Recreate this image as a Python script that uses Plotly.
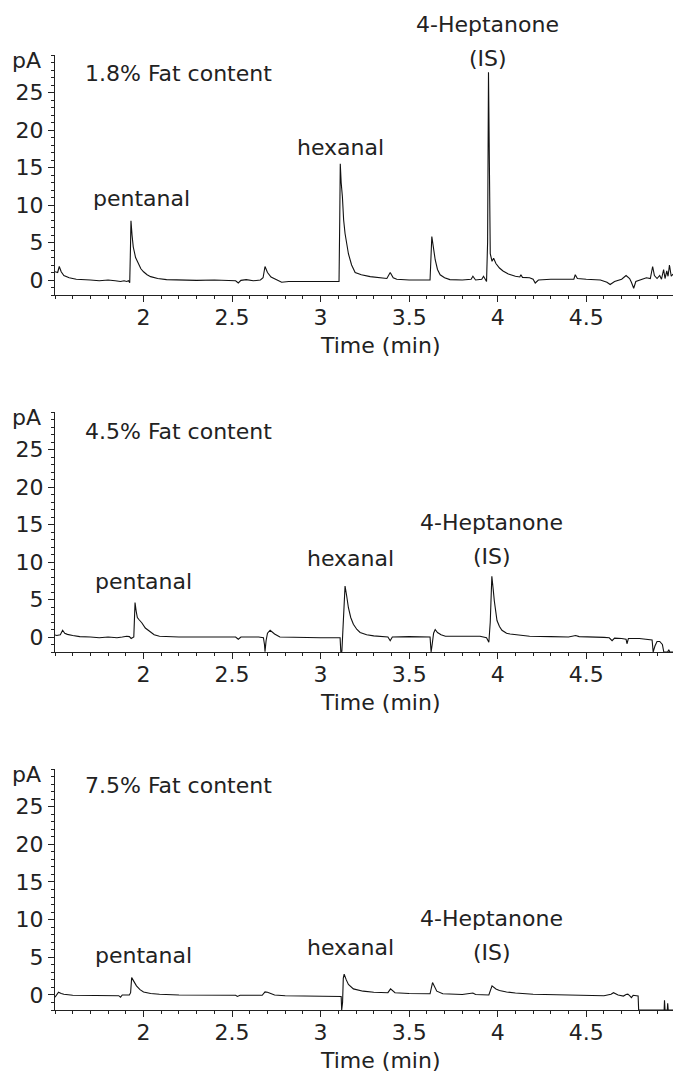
import plotly.graph_objects as go
from plotly.subplots import make_subplots

# ---------------- data ----------------
t_18 = [1.500, 1.515, 1.524, 1.535, 1.550, 1.580, 1.620, 1.660, 1.700, 1.750, 1.800, 1.840, 1.870, 1.890,
        1.905, 1.915, 1.922, 1.926, 1.929, 1.935, 1.942, 1.955, 1.970, 1.985, 2.000, 2.020, 2.040, 2.080,
        2.130, 2.200, 2.300, 2.400, 2.480, 2.520, 2.535, 2.550, 2.580, 2.620, 2.660, 2.675, 2.686, 2.700,
        2.720, 2.750, 2.780, 2.820, 2.900, 3.000, 3.050, 3.104, 3.108, 3.111, 3.116, 3.123, 3.130, 3.138,
        3.157, 3.175, 3.195, 3.230, 3.280, 3.374, 3.393, 3.410, 3.430, 3.500, 3.580, 3.618, 3.628, 3.637,
        3.647, 3.660, 3.675, 3.700, 3.730, 3.800, 3.850, 3.860, 3.875, 3.910, 3.920, 3.937, 3.943, 3.948,
        3.952, 3.955, 3.958, 3.968, 3.977, 3.990, 4.010, 4.030, 4.060, 4.100, 4.125, 4.131, 4.140, 4.180,
        4.200, 4.212, 4.230, 4.300, 4.400, 4.430, 4.438, 4.450, 4.500, 4.580, 4.617, 4.635, 4.660, 4.700,
        4.725, 4.745, 4.755, 4.768, 4.780, 4.800, 4.840, 4.862, 4.875, 4.885, 4.900, 4.915, 4.925, 4.937,
        4.945, 4.955, 4.962, 4.970, 4.980, 4.990]
pa_18 = [1.1, 1.0, 1.8, 1.1, 0.6, 0.3, 0.1, 0.0, 0.0, -0.1, 0.0, -0.1, -0.2, -0.1,
         -0.2, -0.1, -0.35, 4.0, 7.9, 6.0, 4.4, 3.0, 2.2, 1.5, 1.1, 0.7, 0.45, 0.2,
         0.05, 0.0, -0.05, 0.0, -0.05, -0.1, -0.4, -0.05, 0.05, -0.1, 0.0, 0.3, 1.8, 1.0,
         0.4, 0.0, -0.3, -0.2, -0.2, -0.1, -0.2, -0.2, 8.0, 15.5, 13.0, 11.1, 8.0, 6.2,
         3.5, 2.0, 1.0, 0.7, 0.45, 0.2, 1.0, 0.3, 0.1, 0.0, 0.0, 0.0, 5.8, 4.0,
         2.7, 1.4, 0.7, 0.3, 0.05, 0.0, 0.1, 0.5, 0.0, 0.1, 0.5, -0.2, 5.0, 27.7,
         18.0, 8.0, 3.5, 2.5, 2.9, 2.2, 1.6, 1.2, 0.8, 0.5, 0.4, 0.7, 0.35, 0.3,
         0.1, -0.4, 0.0, 0.1, 0.1, 0.1, 0.7, 0.2, 0.1, 0.0, -0.3, -0.6, -0.2, 0.1,
         0.6, 0.2, -0.3, -1.1, -0.2, 0.0, 0.3, 0.2, 1.8, 0.6, 0.2, 0.6, 0.1, 1.4,
         0.2, 1.2, 0.5, 2.0, 0.5, 0.8]

t_45 = [1.500, 1.510, 1.530, 1.543, 1.555, 1.570, 1.600, 1.640, 1.700, 1.750, 1.800, 1.850, 1.880, 1.905,
        1.920, 1.930, 1.945, 1.952, 1.958, 1.965, 1.975, 1.990, 2.010, 2.030, 2.060, 2.090, 2.200, 2.400,
        2.520, 2.535, 2.550, 2.650, 2.677, 2.683, 2.686, 2.692, 2.700, 2.715, 2.740, 2.770, 2.900, 3.000,
        3.110, 3.114, 3.120, 3.130, 3.138, 3.147, 3.157, 3.170, 3.185, 3.205, 3.223, 3.260, 3.300, 3.380,
        3.393, 3.405, 3.500, 3.618, 3.624, 3.630, 3.638, 3.647, 3.660, 3.680, 3.705, 3.800, 3.900, 3.937,
        3.950, 3.958, 3.967, 3.974, 3.981, 3.996, 4.010, 4.024, 4.050, 4.070, 4.180, 4.300, 4.400, 4.440,
        4.460, 4.600, 4.630, 4.646, 4.660, 4.700, 4.725, 4.730, 4.738, 4.800, 4.860, 4.872, 4.878, 4.888,
        4.900, 4.915, 4.930, 4.938, 4.960, 4.966, 4.972, 4.990]
pa_45 = [0.27, 0.2, 0.3, 0.9, 0.5, 0.35, 0.2, 0.05, 0.0, -0.1, 0.0, -0.1, 0.0, 0.1,
         0.05, -0.2, 0.0, 4.6, 3.5, 2.6, 2.3, 1.9, 1.2, 0.8, 0.3, 0.1, 0.0, 0.0,
         0.0, -0.3, 0.0, 0.0, -0.1, -1.0, -1.95, -0.5, 0.5, 0.9, 0.4, 0.0, -0.1, -0.1,
         -0.1, -1.95, -1.9, 3.0, 6.8, 5.5, 3.9, 2.6, 1.7, 1.0, 0.6, 0.3, 0.15, 0.0,
         -0.5, 0.0, 0.05, 0.0, -2.0, -1.0, 0.5, 1.0, 0.6, 0.3, 0.1, 0.1, 0.1, -0.1,
         -0.7, 2.0, 8.1, 6.5, 4.8, 2.2, 1.4, 0.9, 0.5, 0.4, 0.1, 0.05, 0.0, 0.2,
         0.05, -0.05, -0.1, -0.5, -0.15, -0.2, -0.3, -0.9, -0.2, -0.2, -0.3, -0.4, -2.0, -1.2,
         -0.6, -0.6, -1.0, -2.0, -2.0, -1.7, -2.0, -2.0]

t_75 = [1.500, 1.510, 1.520, 1.535, 1.550, 1.600, 1.700, 1.800, 1.860, 1.870, 1.880, 1.920, 1.927, 1.933,
        1.945, 1.960, 1.980, 2.000, 2.040, 2.090, 2.200, 2.400, 2.520, 2.530, 2.545, 2.670, 2.686, 2.700,
        2.720, 2.740, 2.800, 3.000, 3.116, 3.119, 3.124, 3.128, 3.133, 3.145, 3.157, 3.185, 3.240, 3.300,
        3.380, 3.395, 3.405, 3.420, 3.500, 3.618, 3.632, 3.645, 3.656, 3.690, 3.800, 3.860, 3.875, 3.950,
        3.960, 3.968, 3.990, 4.010, 4.050, 4.100, 4.200, 4.400, 4.600, 4.640, 4.654, 4.680, 4.710, 4.725,
        4.735, 4.745, 4.755, 4.765, 4.780, 4.793, 4.796, 4.940, 4.942, 4.945, 4.958, 4.960, 4.963, 4.990]
pa_75 = [-0.3, 0.0, 0.35, 0.2, 0.1, -0.05, -0.1, -0.1, -0.1, -0.3, 0.0, 0.0, 0.3, 2.3,
         1.8, 1.2, 0.7, 0.4, 0.2, 0.1, 0.0, -0.05, -0.05, -0.2, -0.05, -0.05, 0.4, 0.35,
         0.15, 0.0, -0.1, -0.1, -0.2, -2.0, -1.0, 2.2, 2.75, 2.0, 1.4, 0.8, 0.5, 0.35,
         0.3, 0.8, 0.6, 0.3, 0.2, 0.15, 1.65, 0.9, 0.5, 0.15, 0.05, 0.25, 0.05, 0.0,
         0.8, 1.2, 0.8, 0.6, 0.4, 0.25, 0.1, 0.0, -0.1, 0.1, 0.3, 0.0, -0.15, 0.05,
         0.1, -0.1, -0.35, -0.05, -0.15, -0.15, -2.0, -2.0, -0.7, -2.0, -2.0, -1.1, -2.0, -2.0]

panels = [
    ("1.8% Fat content", t_18, pa_18),
    ("4.5% Fat content", t_45, pa_45),
    ("7.5% Fat content", t_75, pa_75),
]

# label positions (time, pA) per panel: pentanal, hexanal, (IS); "4-Heptanone" sits one line above "(IS)"
label_pos = [
    [(1.989, 10.9), (3.110, 17.7), (3.945, 29.6)],
    [(1.997, 7.4), (3.167, 10.5), (3.967, 10.8)],
    [(1.997, 5.2), (3.167, 6.3), (3.967, 5.6)],
]
label_text = ["pentanal", "hexanal", "(IS)"]
title_pos = [27.6, 27.4, 27.8]

x_range = [1.5, 4.99]
y_range = [-2, 30]
x_ticks = [2, 2.5, 3, 3.5, 4, 4.5]
x_ticktext = ["2", "2.5", "3", "3.5", "4", "4.5"]
y_ticks = [0, 5, 10, 15, 20, 25]

# ---------------- figure ----------------
FONT = "DejaVu Sans"
TXT = "#222222"
FS = 22

fig = make_subplots(rows=3, cols=1)
H = 1073
top_m, bot_m = 55, 63
inner = H - top_m - bot_m
def dom(ptop, pbot):
    return [(H - bot_m - pbot) / inner, (H - bot_m - ptop) / inner]
domains = [dom(55, 295), dom(412, 652), dom(769, 1010)]

for i, (title, t, v) in enumerate(panels):
    r = i + 1
    fig.add_trace(go.Scatter(x=t, y=v, mode="lines",
                             line=dict(color="#111111", width=1.1),
                             showlegend=False, hoverinfo="skip"), row=r, col=1)
    ya = "yaxis" if r == 1 else f"yaxis{r}"
    fig.layout[ya].domain = domains[i]
    xref = "x" if r == 1 else f"x{r}"
    yref = "y" if r == 1 else f"y{r}"

    fig.update_xaxes(row=r, col=1, range=x_range, showgrid=False, zeroline=False,
                     showline=True, linecolor="#222", linewidth=1.2,
                     ticks="outside", ticklen=6, tickwidth=1.2, tickcolor="#222",
                     tickvals=x_ticks, ticktext=x_ticktext, ticklabelstandoff=-4,
                     tickfont=dict(family=FONT, size=FS, color=TXT),
                     minor=dict(ticks="outside", ticklen=3, tickcolor="#222",
                                tick0=1.5, dtick=0.1, showgrid=False))
    fig.update_yaxes(row=r, col=1, range=y_range, showgrid=False, zeroline=False,
                     showline=True, linecolor="#222", linewidth=1.2,
                     ticks="outside", ticklen=6, tickwidth=1.2, tickcolor="#222",
                     tickvals=y_ticks,
                     tickfont=dict(family=FONT, size=FS, color=TXT),
                     minor=dict(ticks="outside", ticklen=3, tickcolor="#222",
                                tick0=0, dtick=1, showgrid=False))

    # panel title
    fig.add_annotation(x=1.658, y=title_pos[i], xref=xref, yref=yref, text=title,
                       showarrow=False, xanchor="left", yanchor="middle",
                       font=dict(family=FONT, size=FS, color=TXT))
    # pA unit label
    fig.add_annotation(x=0, y=29.3, xref="paper", yref=yref, text="pA",
                       showarrow=False, xanchor="right", yanchor="middle", xshift=-12,
                       font=dict(family=FONT, size=FS, color=TXT))
    # peak labels
    for (lx, ly), txt in zip(label_pos[i], label_text):
        fig.add_annotation(x=lx, y=ly, xref=xref, yref=yref, text=txt,
                           showarrow=False, xanchor="center", yanchor="middle",
                           font=dict(family=FONT, size=FS, color=TXT))
    isx, isy = label_pos[i][2]
    fig.add_annotation(x=isx, y=isy, xref=xref, yref=yref, text="4-Heptanone",
                       showarrow=False, xanchor="center", yanchor="middle", yshift=34,
                       font=dict(family=FONT, size=FS, color=TXT))
    # x-axis title
    fig.add_annotation(x=(381 - 55) / (673 - 55), y=domains[i][0], xref="paper", yref="paper",
                       text="Time (min)", showarrow=False,
                       xanchor="center", yanchor="middle", yshift=-50,
                       font=dict(family=FONT, size=FS, color=TXT))

fig.update_layout(width=673, height=H,
                  margin=dict(l=55, r=0, t=top_m, b=bot_m),
                  paper_bgcolor="white", plot_bgcolor="white",
                  showlegend=False)

fig.write_html("out.html")
